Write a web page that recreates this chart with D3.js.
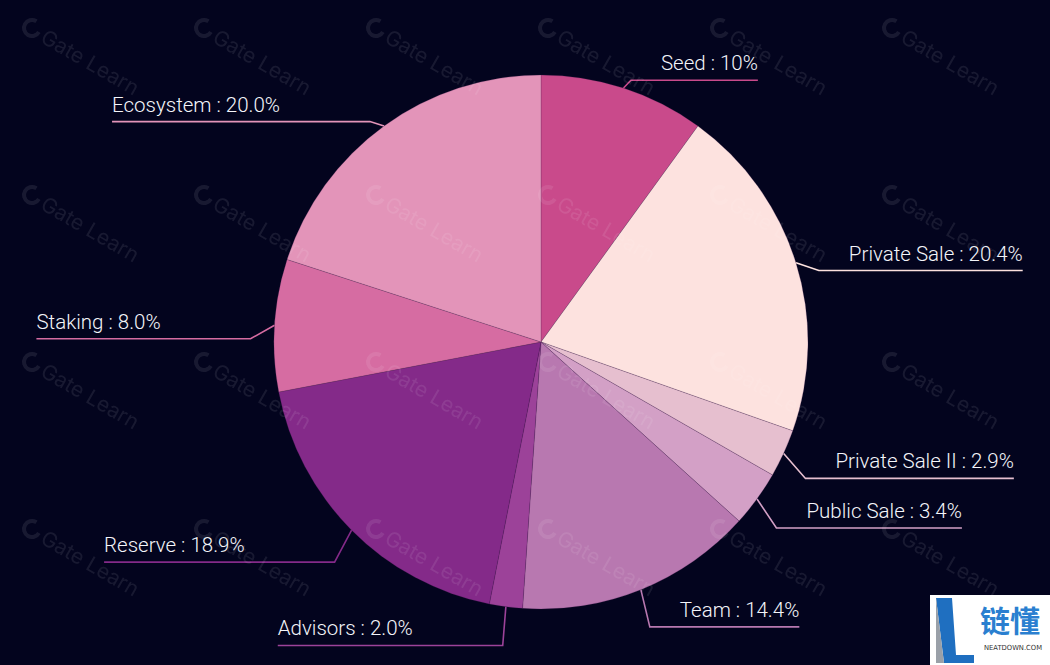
<!DOCTYPE html>
<html>
<head>
<meta charset="utf-8">
<script src="https://cdn.jsdelivr.net/npm/d3@7"></script>
<style>
  html, body { margin: 0; padding: 0; background: #03041e; }
  svg { display: block; }
</style>
</head>
<body>
<svg id="chart" width="1050" height="665"></svg>
<script>
const categories = ["Seed", "Private Sale", "Private Sale II", "Public Sale", "Team", "Advisors", "Reserve", "Staking", "Ecosystem"];
const values = [10, 20.4, 2.9, 3.4, 14.4, 2.0, 18.9, 8.0, 20.0];
const valueLabels = ["10%", "20.4%", "2.9%", "3.4%", "14.4%", "2.0%", "18.9%", "8.0%", "20.0%"];
const colors = ["#c94a8b", "#fde2df", "#e6bfcf", "#d3a0c6", "#b878b0", "#9c4299", "#842a89", "#d66ca2", "#e394b9"];

const W = 1050, H = 665;
const cx = 541, cy = 342, r = 267;
const svg = d3.select("#chart");
svg.append("rect").attr("width", W).attr("height", H).attr("fill", "#03041e");

const pie = d3.pie().sort(null).value(d => d);
const arcs = pie(values);
const arcGen = d3.arc().innerRadius(0).outerRadius(r);

const g = svg.append("g").attr("transform", `translate(${cx},${cy})`);
const lineLayer = g.append("g");
const pieLayer = g.append("g");
const labelLayer = g.append("g");

const font = "Roboto, 'Noto Sans', sans-serif";
const fontSize = 20.5;
const fontWeight = 300;
const radialLen = 24, drop = 15, gapRight = 30, gapLeft = 90;

const meas = svg.append("text").attr("font-family", font).attr("font-size", fontSize)
  .attr("font-weight", fontWeight).attr("visibility", "hidden");
function textW(s) { meas.text(s); return meas.node().getComputedTextLength(); }

arcs.forEach((d, i) => {
  const mid = (d.startAngle + d.endAngle) / 2;
  const sx = Math.sin(mid), sy = -Math.cos(mid);
  const ax = r * sx, ay = r * sy;
  const ex = (r + radialLen) * sx, ey = (r + radialLen) * sy + drop;
  const label = `${categories[i]} : ${valueLabels[i]}`;
  const tw = textW(label);
  const right = sx >= 0;
  const endX = right ? ex + tw + gapRight : ex - tw - gapLeft;
  lineLayer.append("path")
    .attr("d", d3.line()([[ax, ay], [ex, ey], [endX, ey]]))
    .attr("fill", "none")
    .attr("stroke", colors[i])
    .attr("stroke-width", 1.6);
  labelLayer.append("text")
    .attr("x", endX)
    .attr("y", ey - 10)
    .attr("text-anchor", right ? "end" : "start")
    .attr("font-family", font)
    .attr("font-size", fontSize)
    .attr("font-weight", fontWeight)
    .attr("fill", "#f4f5fa")
    .text(label);
});

pieLayer.selectAll("path")
  .data(arcs)
  .join("path")
  .attr("d", arcGen)
  .attr("fill", (d, i) => colors[i])
  .attr("stroke", "rgba(70,30,80,0.35)")
  .attr("stroke-width", 0.6);

// watermark
const wm = svg.append("g").attr("opacity", 0.09);
d3.range(20, W, 172).forEach(x => {
  d3.range(14, H, 167).forEach(y => {
    const t = wm.append("g").attr("transform", `translate(${x + 12},${y + 14}) rotate(30)`);
    t.append("circle").attr("r", 8).attr("fill", "none").attr("stroke", "#ffffff").attr("stroke-width", 4)
      .attr("stroke-dasharray", "38 12");
    t.append("text").attr("x", 13).attr("y", 8).attr("font-family", "Inter, Lato, sans-serif")
      .attr("font-size", 21).attr("fill", "#ffffff").text("Gate Learn");
  });
});

// corner logo
const logo = svg.append("g").attr("transform", "translate(930,595)");
logo.append("rect").attr("width", 120).attr("height", 70).attr("fill", "#ffffff");
logo.append("path").attr("d", "M6,3 L22,3 L26,60 L44,60 L44,68 L14,68 Z").attr("fill", "#1f6fc0");
logo.append("path").attr("d", "M6,3 L14,68 L6,68 Z").attr("fill", "#9aa0a8");
logo.append("text").attr("x", 50).attr("y", 37).attr("font-family", "'Noto Sans CJK SC', sans-serif")
  .attr("font-size", 30).attr("font-weight", 700).attr("fill", "#2a7fd0").text("链懂");
logo.append("text").attr("x", 54).attr("y", 55).attr("font-family", "'DejaVu Sans', sans-serif")
  .attr("font-size", 7).attr("fill", "#333").attr("textLength", 58).attr("lengthAdjust", "spacingAndGlyphs")
  .text("NEATDOWN.COM");
</script>
</body>
</html>
